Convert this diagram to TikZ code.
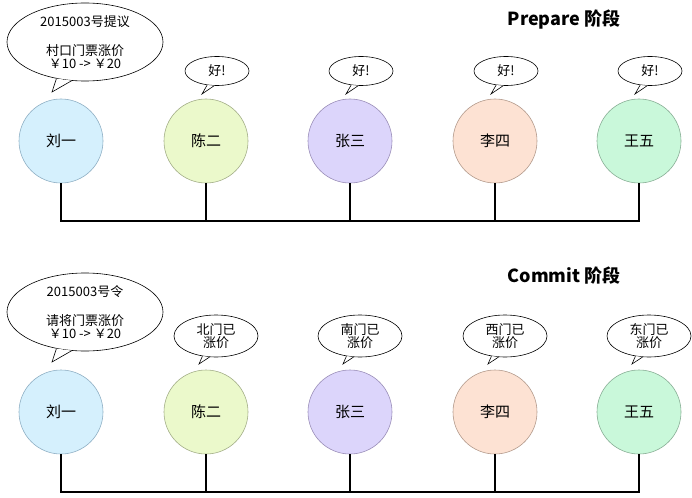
\documentclass[tikz,border=0pt]{standalone}
\usepackage{fontspec}
\setmainfont{Noto Sans CJK SC}
\usetikzlibrary{shapes.geometric}

\definecolor{liufill}{HTML}{D5F0FD}
\definecolor{liuline}{HTML}{8FAFC4}
\definecolor{chenfill}{HTML}{EBF9CB}
\definecolor{chenline}{HTML}{A3AE88}
\definecolor{zhangfill}{HTML}{DCD5FB}
\definecolor{zhangline}{HTML}{9A8EB8}
\definecolor{lifill}{HTML}{FDE2D3}
\definecolor{liline}{HTML}{B39A8C}
\definecolor{wangfill}{HTML}{C9F8DA}
\definecolor{wangline}{HTML}{88AE95}

\tikzset{
  person/.style={circle, minimum size=84pt, inner sep=0pt, line width=0.6pt,
    font=\fontsize{15}{15}\selectfont},
  bubble/.style={ellipse, draw, fill=white, inner sep=0pt, line width=0.6pt,
    align=center, font=\fontsize{13}{13}\selectfont},
  tail/.style={line width=0.6pt},
  bus/.style={line width=2.5pt},
  phase/.style={font=\fontsize{18}{18}\selectfont\bfseries}
}

\begin{document}
\begin{tikzpicture}[x=1pt, y=-1pt]
  \useasboundingbox (0,0) rectangle (692,497);

  % phase titles
  \node[phase] (prepare) at (564,20) {Prepare 阶段};
  \node[phase] (commit) at (564,276) {Commit 阶段};

  % the five people, two rows
  \foreach \n/\x/\who/\col in {a/61/刘一/liu, b/206/陈二/chen, c/350/张三/zhang,
                               d/495/李四/li, e/639/王五/wang} {
    \node[person, fill=\col fill, draw=\col line] (p\n) at (\x,141) {\who};
    \node[person, fill=\col fill, draw=\col line] (q\n) at (\x,412) {\who};
    \coordinate (pt\n) at (\x,221);
    \coordinate (qt\n) at (\x,492);
    \draw[bus] (p\n.south) -- (pt\n);
    \draw[bus] (q\n.south) -- (qt\n);
  }
  \draw[bus, line cap=rect] (pta) -- (pte);
  \draw[bus, line cap=rect] (qta) -- (qte);

  % proposer bubbles
  \node[bubble, minimum width=156pt, minimum height=78pt] (propose) at (85,42)
    {2015003号提议\\[16pt]村口门票涨价\\￥10 -> ￥20};
  \coordinate (proposetip) at (52,92);
  \fill[white] (propose.232) -- (proposetip) -- (propose.251) -- cycle;
  \draw[tail] (propose.232) -- (proposetip) -- (propose.251);

  \node[bubble, minimum width=156pt, minimum height=78pt] (order) at (85,312)
    {2015003号令\\[16pt]请将门票涨价\\￥10 -> ￥20};
  \coordinate (ordertip) at (52,362);
  \fill[white] (order.232) -- (ordertip) -- (order.251) -- cycle;
  \draw[tail] (order.232) -- (ordertip) -- (order.251);

  % replies
  \foreach \n/\x/\reply in {b/206/北门已, c/350/南门已, d/495/西门已, e/639/东门已} {
    \node[bubble, minimum width=64pt, minimum height=29pt] (ok\n) at (\x+11,71) {好!};
    \coordinate (oktip\n) at (\x-4,94);
    \fill[white] (ok\n.235) -- (oktip\n) -- (ok\n.259) -- cycle;
    \draw[tail] (ok\n.235) -- (oktip\n) -- (ok\n.259);

    \node[bubble, minimum width=84pt, minimum height=42pt] (done\n) at (\x+10,336)
      {\reply\\涨价};
    \coordinate (donetip\n) at (\x-7,364);
    \fill[white] (done\n.236) -- (donetip\n) -- (done\n.253) -- cycle;
    \draw[tail] (done\n.236) -- (donetip\n) -- (done\n.253);
  }
\end{tikzpicture}
\end{document}
